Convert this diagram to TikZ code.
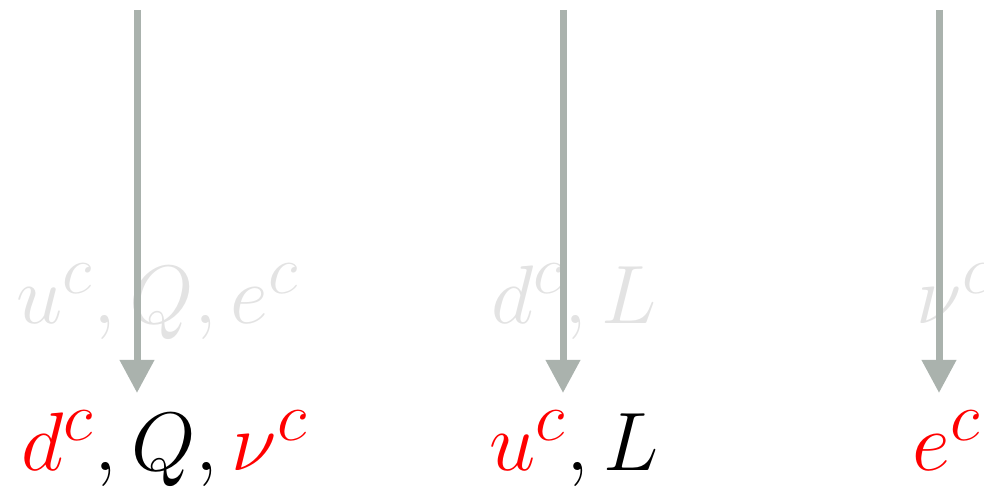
\documentclass[tikz,border=0pt]{standalone}
\usepackage{amsmath,amssymb}
\usepackage{tikz}
\usetikzlibrary{positioning,arrows.meta,calc}
\definecolor{flowgray}{RGB}{170,178,173}
\definecolor{ghostgray}{RGB}{227,227,227}
\DeclareMathSizes{21}{21}{16.5}{12}
\newcommand{\rc}[1]{\textcolor{red}{#1}}

\begin{document}
\begin{tikzpicture}[x=0.25pt, y=-0.25pt,
  lbl/.style={font=\fontsize{21}{24}\selectfont, anchor=base, inner sep=0pt},
  ghost/.style={lbl, text=ghostgray},
  flow/.style={draw=flowgray, line width=1.75pt, -{Triangle[length=8.25pt, width=8.25pt]}}]
\useasboundingbox (0,0) rectangle (984,499);
% old assignment, faded
\node[ghost] (old1) at (158,324) {$u^c, Q, e^c$};
\node[ghost] (old2) at (574,324) {$d^c, L$};
\node[ghost] (old3) at (955,324) {$\nu^c$};
% new assignment
\node[lbl] (new1) at (165,471) {$\rc{d^c}, Q, \rc{\nu^c}$};
\node[lbl] (new2) at (574,471) {$\rc{u^c}, L$};
\node[lbl] (new3) at (947,471) {$\rc{e^c}$};
\coordinate (top1) at (137,10);
\coordinate (top2) at (563,10);
\coordinate (top3) at (939,10);
\coordinate (tip1) at (137,393);
\coordinate (tip2) at (563,393);
\coordinate (tip3) at (939,393);
\foreach \i in {1,2,3} \draw[flow] (top\i) -- (tip\i);
\end{tikzpicture}
\end{document}
